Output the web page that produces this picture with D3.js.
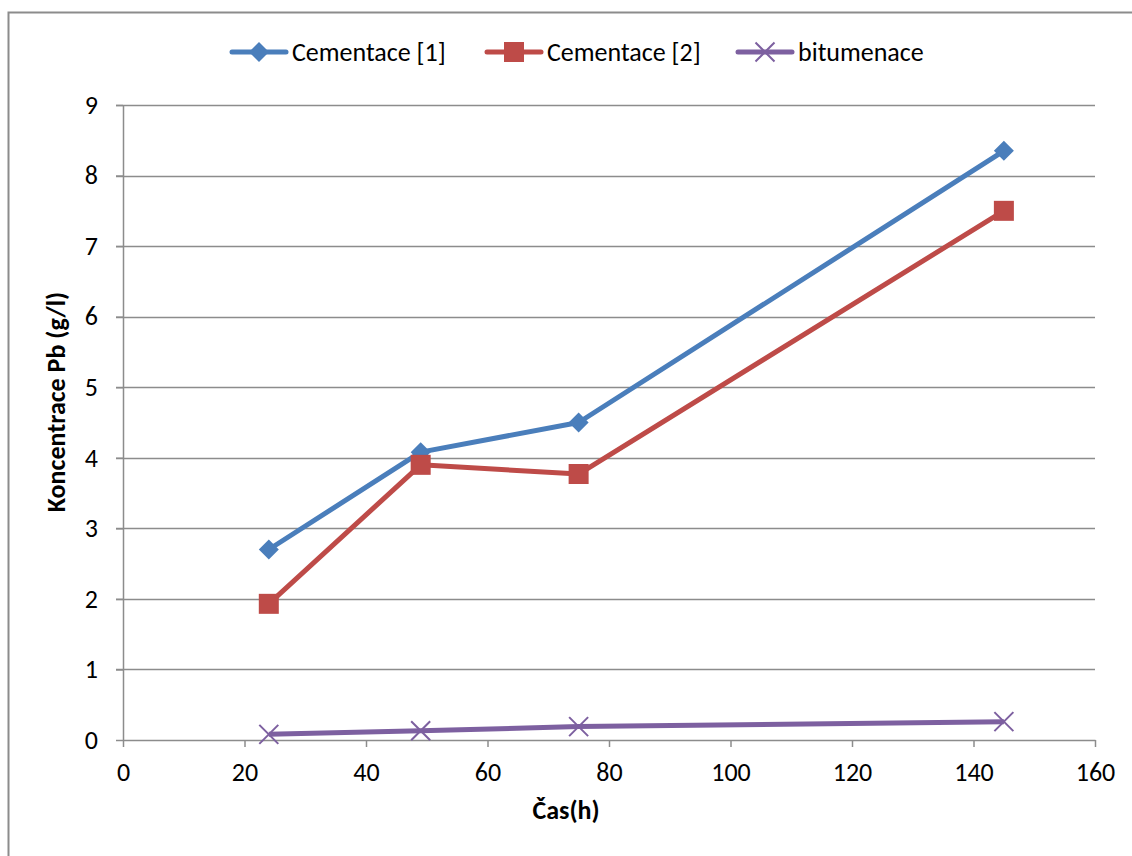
<!DOCTYPE html>
<html>
<head>
<meta charset="UTF-8">
<title>Koncentrace Pb</title>
<script src="https://d3js.org/d3.v7.min.js"></script>
<style>
  body { margin: 0; background: #fff; }
  text { font-family: Carlito, "Open Sans", "Noto Sans", sans-serif; fill: #000; }
</style>
</head>
<body>
<svg id="chart"></svg>
<script>
// data
const hours = [24, 49, 75, 145];
const cement1 = [2.7, 4.08, 4.5, 8.35];
const cement2 = [1.93, 3.9, 3.77, 7.5];
const bitumen = [0.08, 0.13, 0.19, 0.26];
const seriesNames = ["Cementace [1]", "Cementace [2]", "bitumenace"];
const xTicks = [0, 20, 40, 60, 80, 100, 120, 140, 160];
const yTicks = [0, 1, 2, 3, 4, 5, 6, 7, 8, 9];

const WIDTH = 1132, HEIGHT = 856;
const FONT = 26;
const margins = {top: 105, bottom: 116, left: 123, right: 37};
const colors = ["#4a7ebb", "#be4b48", "#7d60a0"];
const markers = ["diamond", "square", "cross"];

const svg = d3.select("#chart").attr("width", WIDTH).attr("height", HEIGHT);

// chart frame (only left/top edges show in the picture)
svg.append("rect")
  .attr("x", 8.5).attr("y", 12.5)
  .attr("width", WIDTH + 20).attr("height", HEIGHT + 20)
  .attr("fill", "none").attr("stroke", "#8c8c8c").attr("stroke-width", 2);

const x = d3.scaleLinear().domain([0, 160]).range([margins.left, WIDTH - margins.right]);
const y = d3.scaleLinear().domain([0, 9]).range([HEIGHT - margins.bottom, margins.top]);

// gridlines
svg.append("g").selectAll("line").data(yTicks.slice(1)).join("line")
  .attr("x1", x(0) - 7).attr("x2", x(160))
  .attr("y1", d => Math.round(y(d)) + 0.5).attr("y2", d => Math.round(y(d)) + 0.5)
  .attr("stroke", "#8c8c8c").attr("stroke-width", 1.3);

// y axis
const yAxis = svg.append("g")
  .attr("transform", `translate(${x(0)},0)`)
  .call(d3.axisLeft(y).tickValues(yTicks).tickSize(7).tickPadding(18).tickSizeOuter(0));
// x axis
const xAxis = svg.append("g")
  .attr("transform", `translate(0,${y(0)})`)
  .call(d3.axisBottom(x).tickValues(xTicks).tickSize(7).tickPadding(16).tickSizeOuter(0));

[yAxis, xAxis].forEach(a => {
  a.select(".domain").attr("stroke", "#8c8c8c").attr("stroke-width", 1.5);
  a.selectAll(".tick line").attr("stroke", "#8c8c8c").attr("stroke-width", 1.5);
  a.selectAll(".tick text").style("font-size", FONT + "px").attr("fill", "#000")
    .style("font-family", 'Carlito, "Open Sans", "Noto Sans", sans-serif');
});

// axis titles
svg.append("text")
  .attr("transform", `translate(65,402) rotate(-90)`)
  .attr("text-anchor", "middle")
  .style("font-size", FONT + "px").style("font-weight", "bold")
  .text("Koncentrace Pb (g/l)");

svg.append("text")
  .attr("x", 566).attr("y", 819)
  .attr("text-anchor", "middle")
  .style("font-size", FONT + "px").style("font-weight", "bold")
  .text("Čas(h)");

const draw_marker = function(g, type, color) {
  if (type == "diamond") {
    g.append("path").attr("d", "M0,-10L10,0L0,10L-10,0Z").attr("fill", color);
  } else if (type == "square") {
    g.append("rect").attr("x", -10).attr("y", -10).attr("width", 20).attr("height", 20).attr("fill", color);
  } else {
    g.append("path").attr("d", "M-9.5,-9.5L9.5,9.5M-9.5,9.5L9.5,-9.5")
      .attr("stroke", color).attr("stroke-width", 2).attr("fill", "none");
  }
};

const line = d3.line().x(d => x(d[0])).y(d => y(d[1]));
[cement1, cement2, bitumen].forEach((vals, s) => {
  const pts = hours.map((h, i) => [h, vals[i]]);
  svg.append("path").datum(pts)
    .attr("d", line)
    .attr("fill", "none").attr("stroke", colors[s]).attr("stroke-width", 5)
    .attr("stroke-linejoin", "round");
  pts.forEach(p => {
    const g = svg.append("g").attr("transform", `translate(${x(p[0])},${y(p[1])})`);
    draw_marker(g, markers[s], colors[s]);
  });
});

// legend
const legendX = [232, 487, 738];
seriesNames.forEach((name, s) => {
  const lg = svg.append("g").attr("transform", `translate(${legendX[s]},52)`);
  lg.append("line").attr("x1", 0).attr("x2", 54).attr("y1", 0).attr("y2", 0)
    .attr("stroke", colors[s]).attr("stroke-width", 5).attr("stroke-linecap", "round");
  const mg = lg.append("g").attr("transform", "translate(27,0)");
  draw_marker(mg, markers[s], colors[s]);
  lg.append("text").attr("x", 60).attr("y", 9)
    .style("font-size", FONT + "px").text(name);
});
</script>
</body>
</html>
